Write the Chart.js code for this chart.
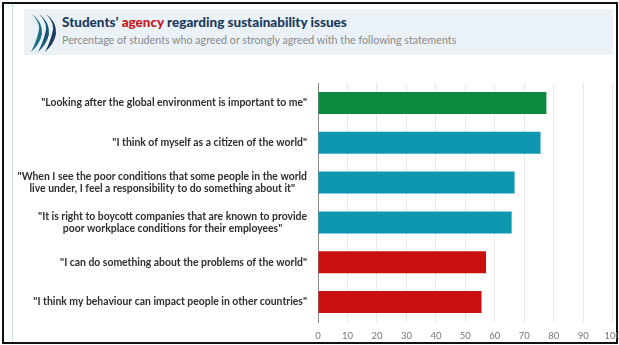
<!DOCTYPE html>
<html>
<head>
<meta charset="utf-8">
<script src="https://cdn.jsdelivr.net/npm/chart.js@4"></script>
<style>
  html, body { margin: 0; padding: 0; background: #fff; }
  #wrap { position: relative; width: 619px; height: 345px; overflow: hidden; }
  #frame { position: absolute; left: 2px; top: 2px; width: 612px; height: 338px; border: 2px solid #111; }
  #dots { position: absolute; left: 12px; top: 5px; height: 336px; border-left: 1px dotted #a9c6e0; }
  #band { position: absolute; left: 24px; top: 9px; width: 589px; height: 46px; background: #eaf1f7; }
  #title { position: absolute; left: 62px; top: 14px; font: 900 13.5px Lato, sans-serif; color: #1c3b5e; white-space: nowrap; }
  #title span { color: #c8161d; }
  #sub { position: absolute; left: 62px; top: 33px; font: 10.7px Lato, sans-serif; color: #8a8a8a; white-space: nowrap; }
  #logo { position: absolute; left: 30px; top: 12px; }
  canvas { position: absolute; left: 0; top: 0; }
</style>
</head>
<body>
<div id="wrap">
  <div id="frame"></div>
  <div id="dots"></div>
  <div id="band"></div>
  <svg id="logo" width="28" height="42" viewBox="0 0 28 42">
    <path d="M2 2 Q12 12 8 22 Q6 30 1 40 Q10 32 12 22 Q13 10 2 2 Z" fill="#1d6f86"/>
    <path d="M9 2 Q19 12 15 22 Q13 30 8 40 Q17 32 19 22 Q20 10 9 2 Z" fill="#1b5575"/>
    <path d="M16 2 Q26 12 22 22 Q20 30 15 40 Q24 32 26 22 Q27 10 16 2 Z" fill="#1a3c5e"/>
  </svg>
  <div id="title">Students’ <span>agency</span> regarding sustainability issues</div>
  <div id="sub">Percentage of students who agreed or strongly agreed with the following statements</div>
  <canvas id="chart" width="629" height="345"></canvas>
</div>
<script>
const statements = [
  '"Looking after the global environment is important to me"',
  '"I think of myself as a citizen of the world"',
  ['"When I see the poor conditions that some people in the world', 'live under, I feel a responsibility to do something about it"'],
  ['"It is right to boycott companies that are known to provide', 'poor workplace conditions for their employees"'],
  '"I can do something about the problems of the world"',
  '"I think my behaviour can impact people in other countries"'
];
const agreed = [77.5, 75.5, 66.7, 65.7, 57, 55.5];
const barColors = ['#0d8a3f', '#0f97af', '#0f97af', '#0f97af', '#c90f0f', '#c90f0f'];
const xTicks = [0, 10, 20, 30, 40, 50, 60, 70, 80, 90, 100];

// y labels: each block right-aligned, lines centred inside the block
const labelPlugin = {
  id: 'statementLabels',
  afterDraw(chart) {
    const ctx = chart.ctx;
    const y = chart.scales.y;
    ctx.save();
    ctx.font = 'bold 10.4px Lato, sans-serif';
    ctx.fillStyle = '#2e2e2e';
    ctx.textAlign = 'center';
    ctx.textBaseline = 'middle';
    const right = 307, lh = 12.5;
    statements.forEach((lab, i) => {
      const lines = Array.isArray(lab) ? lab : [lab];
      const w = Math.max(...lines.map(l => ctx.measureText(l).width));
      const cx = right - w / 2;
      const cy = y.getPixelForTick(i);
      lines.forEach((l, k) => {
        ctx.fillText(l, cx, cy + (k - (lines.length - 1) / 2) * lh);
      });
    });
    ctx.restore();
  }
};

new Chart(document.getElementById('chart'), {
  type: 'bar',
  data: {
    labels: statements,
    datasets: [{
      data: agreed,
      backgroundColor: barColors,
      barPercentage: 0.553,
      categoryPercentage: 1
    }]
  },
  options: {
    indexAxis: 'y',
    responsive: false,
    animation: false,
    layout: { padding: { top: 83, right: 0, bottom: 3, left: 0 } },
    plugins: { legend: { display: false }, tooltip: { enabled: false } },
    scales: {
      x: {
        min: 0, max: 100,
        afterBuildTicks(s) { s.ticks = xTicks.map(v => ({ value: v })); },
        afterFit(s) { s.height = 20; },
        grid: { color: '#e9e9e9', drawTicks: false },
        border: { display: false },
        ticks: { color: '#777', font: { family: 'Lato', size: 9.5 }, padding: 8 }
      },
      y: {
        afterFit(s) { s.width = 318; },
        grid: { display: false },
        border: { display: true, color: '#888', width: 1 },
        ticks: { display: false }
      }
    }
  },
  plugins: [labelPlugin]
});
</script>
</body>
</html>
